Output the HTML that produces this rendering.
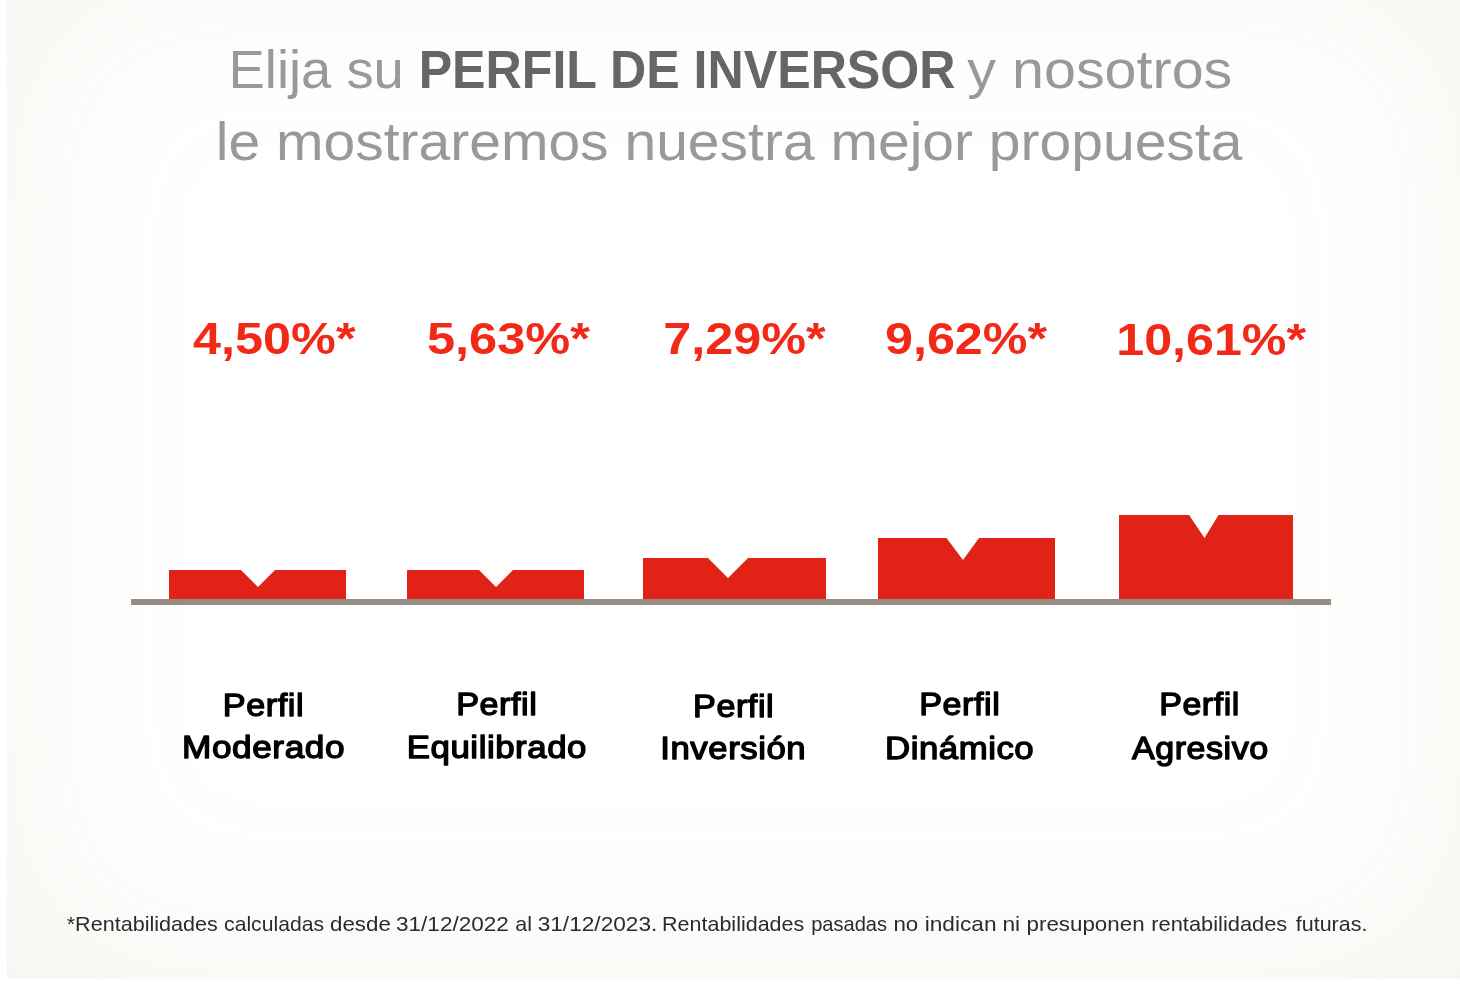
<!DOCTYPE html>
<html lang="es">
<head>
<meta charset="utf-8">
<title>Perfil de inversor</title>
<style>
  html, body { margin: 0; padding: 0; background: #ffffff; }
  body { width: 1460px; height: 1000px; position: relative; overflow: hidden;
         font-family: "Liberation Sans", sans-serif; }
  .panel { position: absolute; left: 7px; top: -30px; width: 1460px; height: 1009px;
           background: #ffffff; box-shadow: inset 0 0 205px rgba(158,133,75,0.10); }
  svg.art { position: absolute; left: 0; top: 0; width: 1460px; height: 1000px; display: block; }
  svg.art text { font-family: "Liberation Sans", sans-serif; }
  .t1 { font-size: 54px; fill: #999999; }
  .t1b { font-size: 54px; font-weight: bold; fill: #666666; }
  .pct { font-size: 44.7px; font-weight: bold; fill: #f32917; }
  .lbl { font-size: 31.8px; font-weight: normal; fill: #000000; stroke: #000000; stroke-width: 1.35px; stroke-linejoin: round; letter-spacing: 0.5px; }
  .foot { font-size: 21px; fill: #2b2b2b; }
  .bar { fill: #e12216; }
  .axis { fill: #978c83; }
</style>
</head>
<body>
<div class="panel"></div>
<svg class="art" width="1460" height="1000" viewBox="0 0 1460 1000">

  <g id="heading">
    <text class="t1" y="87.6"><tspan id="h1a" x="228.58" textLength="175.29" lengthAdjust="spacingAndGlyphs">Elija su</tspan> <tspan class="t1b"><tspan id="h1b" x="418.64" textLength="536.93" lengthAdjust="spacingAndGlyphs">PERFIL DE INVERSOR</tspan></tspan> <tspan id="h1c" x="967.31" textLength="265.03" lengthAdjust="spacingAndGlyphs">y nosotros</tspan></text>
    <text class="t1" y="159.6"><tspan id="h2" x="215.79" textLength="1026.61" lengthAdjust="spacingAndGlyphs">le mostraremos nuestra mejor propuesta</tspan></text>
  </g>
  <g id="values">
    <text class="pct" y="354.3"><tspan id="p1" x="193.05" textLength="162.48" lengthAdjust="spacingAndGlyphs">4,50%*</tspan></text>
    <text class="pct" y="353.8"><tspan id="p2" x="426.92" textLength="162.94" lengthAdjust="spacingAndGlyphs">5,63%*</tspan></text>
    <text class="pct" y="353.6"><tspan id="p3" x="663.29" textLength="162.39" lengthAdjust="spacingAndGlyphs">7,29%*</tspan></text>
    <text class="pct" y="353.7"><tspan id="p4" x="884.99" textLength="161.99" lengthAdjust="spacingAndGlyphs">9,62%*</tspan></text>
    <text class="pct" y="354.7"><tspan id="p5" x="1116.22" textLength="189.83" lengthAdjust="spacingAndGlyphs">10,61%*</tspan></text>
  </g>
  <g id="bars">
    <path class="bar" d="M169 570 H241 L258 587 L275 570 H346 V599.5 H169 Z"/>
    <path class="bar" d="M407 570 H479 L496 587 L513 570 H584 V599.5 H407 Z"/>
    <path class="bar" d="M643 558 H708 L728 578 L748 558 H826 V599.5 H643 Z"/>
    <path class="bar" d="M878 538 H946.5 L963 560 L979 538 H1055 V599.5 H878 Z"/>
    <path class="bar" d="M1119 515 H1189 L1204.5 538 L1218.5 515 H1293 V599.5 H1119 Z"/>
    <rect class="axis" x="131" y="599" width="1200" height="6"/>
  </g>

  <g id="labels">
    <text class="lbl"><tspan id="l1a" x="222.80" y="715.5" textLength="81.29" lengthAdjust="spacingAndGlyphs">Perfil</tspan> <tspan id="l1b" x="182.05" y="758.4" textLength="163.05" lengthAdjust="spacingAndGlyphs">Moderado</tspan></text>
    <text class="lbl"><tspan id="l2a" x="456.15" y="714.7" textLength="81.18" lengthAdjust="spacingAndGlyphs">Perfil</tspan> <tspan id="l2b" x="406.72" y="757.6" textLength="180.31" lengthAdjust="spacingAndGlyphs">Equilibrado</tspan></text>
    <text class="lbl"><tspan id="l3a" x="693.11" y="716.5" textLength="81.03" lengthAdjust="spacingAndGlyphs">Perfil</tspan> <tspan id="l3b" x="660.27" y="759.4" textLength="145.97" lengthAdjust="spacingAndGlyphs">Inversión</tspan></text>
    <text class="lbl"><tspan id="l4a" x="919.23" y="715.4" textLength="81.06" lengthAdjust="spacingAndGlyphs">Perfil</tspan> <tspan id="l4b" x="885.00" y="758.5" textLength="149.24" lengthAdjust="spacingAndGlyphs">Dinámico</tspan></text>
    <text class="lbl"><tspan id="l5a" x="1159.22" y="715.4" textLength="80.58" lengthAdjust="spacingAndGlyphs">Perfil</tspan> <tspan id="l5b" x="1131.99" y="758.5" textLength="136.67" lengthAdjust="spacingAndGlyphs">Agresivo</tspan></text>
  </g>
  <g id="footnote">
    <text class="foot" y="931.0">
      <tspan id="f0" x="66.70" textLength="151.18" lengthAdjust="spacingAndGlyphs">*Rentabilidades</tspan>
      <tspan id="f1" x="224.08" textLength="99.95" lengthAdjust="spacingAndGlyphs">calculadas</tspan>
      <tspan id="f2" x="330.02" textLength="60.87" lengthAdjust="spacingAndGlyphs">desde</tspan>
      <tspan id="f3" x="396.06" textLength="112.78" lengthAdjust="spacingAndGlyphs">31/12/2022</tspan>
      <tspan id="f4" x="515.37" textLength="16.72" lengthAdjust="spacingAndGlyphs">al</tspan>
      <tspan id="f5" x="537.67" textLength="119.72" lengthAdjust="spacingAndGlyphs">31/12/2023.</tspan>
      <tspan id="f6" x="662.06" textLength="142.20" lengthAdjust="spacingAndGlyphs">Rentabilidades</tspan>
      <tspan id="f7" x="811.14" textLength="75.98" lengthAdjust="spacingAndGlyphs">pasadas</tspan>
      <tspan id="f8" x="893.41" textLength="24.81" lengthAdjust="spacingAndGlyphs">no</tspan>
      <tspan id="f9" x="924.72" textLength="71.86" lengthAdjust="spacingAndGlyphs">indican</tspan>
      <tspan id="f10" x="1002.41" textLength="17.72" lengthAdjust="spacingAndGlyphs">ni</tspan>
      <tspan id="f11" x="1026.57" textLength="118.02" lengthAdjust="spacingAndGlyphs">presuponen</tspan>
      <tspan id="f12" x="1151.28" textLength="135.97" lengthAdjust="spacingAndGlyphs">rentabilidades</tspan>
      <tspan id="f13" x="1295.80" textLength="71.57" lengthAdjust="spacingAndGlyphs">futuras.</tspan>
    </text>
  </g>
</svg>
</body>
</html>
